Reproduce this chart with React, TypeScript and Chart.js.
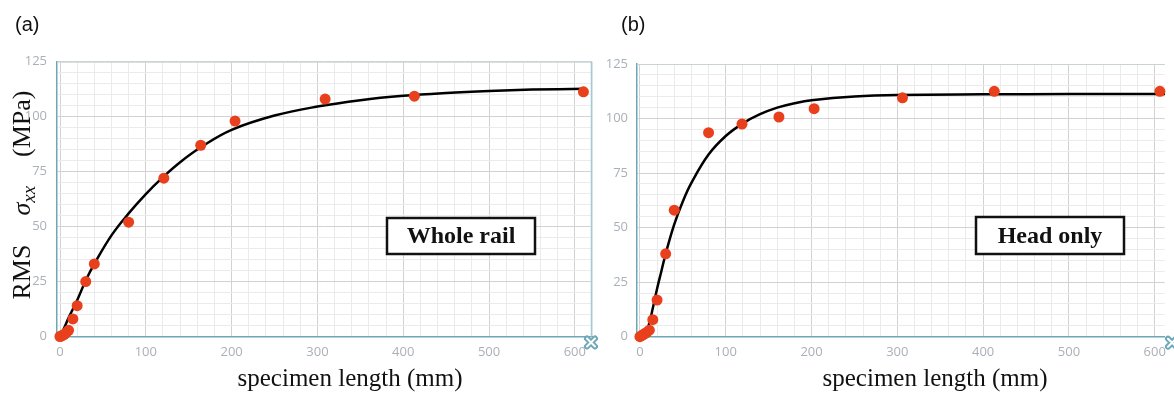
import React, { useEffect, useRef } from "react";
import { Chart, registerables } from "chart.js";

Chart.register(...registerables);

// ---------- data ----------
const panelLabels = ["(a)", "(b)"];
const boxLabels = ["Whole rail", "Head only"];
const xAxisTitle = "specimen length (mm)";
const yTitleParts = ["RMS", "σ", "xx", "(MPa)"];

const xTickLabels = [0, 100, 200, 300, 400, 500, 600];
const yTickLabels = [0, 25, 50, 75, 100, 125];

// (a) whole rail – measured points
const wholeLength = [0, 1, 3, 5, 7, 10, 15, 20, 30, 40, 80, 121, 164, 204, 309, 413, 610];
const wholeRms = [0, 0.2, 0.5, 1, 1.6, 2.8, 8, 14, 25, 33, 52, 72, 87, 98, 108, 109.3, 111.3];
// (a) whole rail – fitted curve
const wholeFitLength = [0, 5, 10, 20, 30, 40, 60, 80, 100, 120, 140, 165, 200, 250, 300, 350, 400, 450, 500, 550, 612];
const wholeFitRms = [0, 4, 8.5, 16.5, 25.5, 33, 46, 56, 64.8, 72.5, 79.3, 86.3, 94, 100.5, 104.6, 107.5, 109.5, 110.8, 111.7, 112.3, 112.7];

// (b) head only – measured points
const headLength = [0, 2, 4, 6, 8, 11, 15, 20, 30, 40, 80, 119, 162, 203, 306, 413, 606];
const headRms = [0, 0.5, 1, 1.5, 2, 3, 7.8, 16.8, 38, 58, 93.5, 97.5, 100.7, 104.5, 109.5, 112.5, 112.5];
// (b) head only – fitted curve
const headFitLength = [0, 5, 10, 15, 20, 25, 30, 40, 50, 60, 80, 100, 120, 140, 160, 180, 200, 250, 300, 400, 500, 612];
const headFitRms = [0, 1.5, 5, 13, 22, 30, 38, 51.5, 62, 70.5, 83.5, 92, 97.8, 102, 105, 107, 108.4, 110.1, 110.8, 111.1, 111.2, 111.2];

// ---------- styling ----------
const RED = "#e8401c";
const TEAL = "#6ea8b8";
const TICK_COLOR = "#aab0b8";
const MAJOR_GRID = "#d2d2d2";
const MINOR_GRID = "#ebebeb";
const SERIF = '"Liberation Serif", "Times New Roman", serif';
const SANS = '"Liberation Sans", Arial, sans-serif';
const TICK_FONT = '"Open Sans", "DejaVu Sans", sans-serif';

const decorPlugin = {
  id: "panelDecor",
  afterDraw(chart: any, _args: any, o: any) {
    const ctx = chart.ctx as CanvasRenderingContext2D;
    const a = chart.chartArea;
    ctx.save();

    // top border
    ctx.strokeStyle = "#c9d3d6";
    ctx.lineWidth = 1;
    ctx.beginPath();
    ctx.moveTo(a.left, a.top + 0.5);
    ctx.lineTo(a.right, a.top + 0.5);
    ctx.stroke();
    if (o.rightBorder) {
      ctx.strokeStyle = "#a9c9d2";
      ctx.lineWidth = 1.5;
      ctx.beginPath();
      ctx.moveTo(a.right - 0.5, a.top);
      ctx.lineTo(a.right - 0.5, a.bottom);
      ctx.stroke();
    }

    // X marker at bottom-right corner
    const mx = o.markerX, my = a.bottom + 6;
    ctx.lineCap = "round";
    ctx.strokeStyle = TEAL;
    ctx.lineWidth = 6;
    ctx.beginPath();
    ctx.moveTo(mx - 4, my - 4); ctx.lineTo(mx + 4, my + 4);
    ctx.moveTo(mx + 4, my - 4); ctx.lineTo(mx - 4, my + 4);
    ctx.stroke();
    ctx.strokeStyle = "#ffffff";
    ctx.lineWidth = 2;
    ctx.beginPath();
    ctx.moveTo(mx - 4, my - 4); ctx.lineTo(mx + 4, my + 4);
    ctx.moveTo(mx + 4, my - 4); ctx.lineTo(mx - 4, my + 4);
    ctx.stroke();

    // panel label
    ctx.fillStyle = "#111";
    ctx.font = `20px ${SANS}`;
    ctx.textAlign = "left";
    ctx.textBaseline = "middle";
    ctx.fillText(o.panel, o.panelX, 25);

    // x-axis title
    ctx.font = `25px ${SERIF}`;
    ctx.textAlign = "center";
    ctx.textBaseline = "alphabetic";
    ctx.fillText(xAxisTitle, o.titleX, 386);

    // annotation box
    const b = o.box;
    ctx.fillStyle = "#fff";
    ctx.fillRect(b.x, b.y, b.w, b.h);
    ctx.strokeStyle = "#111";
    ctx.lineWidth = 2.5;
    ctx.strokeRect(b.x, b.y, b.w, b.h);
    ctx.fillStyle = "#111";
    ctx.font = `bold 24px ${SERIF}`;
    ctx.textAlign = "center";
    ctx.textBaseline = "middle";
    ctx.fillText(o.boxText, b.x + b.w / 2, b.y + b.h / 2 + 1);

    // y-axis title (rotated)
    if (o.yTitle) {
      const [p1, p2, p3, p4] = yTitleParts;
      const f1 = `26px ${SERIF}`;
      const f2 = `italic 26px ${SERIF}`;
      const f3 = `italic 19px ${SERIF}`;
      ctx.font = f1; const w1 = ctx.measureText(p1).width; const w4 = ctx.measureText(p4).width;
      ctx.font = f2; const w2 = ctx.measureText(p2).width;
      ctx.font = f3; const w3 = ctx.measureText(p3).width;
      const gap = 29;
      const total = w1 + gap + w2 + w3 + gap + w4;
      ctx.translate(o.yTitleX, o.yTitleY);
      ctx.rotate(-Math.PI / 2);
      ctx.textAlign = "left";
      ctx.textBaseline = "alphabetic";
      let x = -total / 2;
      const base = 9;
      ctx.font = f1; ctx.fillText(p1, x, base); x += w1 + gap;
      ctx.font = f2; ctx.fillText(p2, x, base); x += w2;
      ctx.font = f3; ctx.fillText(p3, x, base + 5); x += w3 + gap;
      ctx.font = f1; ctx.fillText(p4, x, base);
    }
    ctx.restore();
  },
};

type PanelCfg = {
  width: number;
  left: number;
  padTop: number;
  padRight: number;
  yWidth: number;
  xHeight: number;
  xMin: number;
  xMax: number;
  yPad: number;
  pts: [number[], number[]];
  fit: [number[], number[]];
  decor: any;
};

const isLabeled = (v: number, list: number[]) => list.some((t) => Math.abs(t - v) < 1e-6);

function Panel({ cfg }: { cfg: PanelCfg }) {
  const ref = useRef<HTMLCanvasElement | null>(null);
  useEffect(() => {
    if (!ref.current) return;
    const chart = new Chart(ref.current, {
      type: "scatter",
      data: {
        datasets: [
          {
            data: cfg.pts[0].map((x, i) => ({ x, y: cfg.pts[1][i] })),
            backgroundColor: RED,
            borderColor: RED,
            pointRadius: 5.5,
            pointBorderWidth: 0,
            showLine: false,
            clip: false as any,
          },
          {
            data: cfg.fit[0].map((x, i) => ({ x, y: cfg.fit[1][i] })),
            borderColor: "#000",
            borderWidth: 2.5,
            pointRadius: 0,
            showLine: true,
            tension: 0.4,
            clip: false as any,
          },
        ],
      },
      options: {
        responsive: false,
        animation: false,
        events: [],
        layout: { padding: { top: cfg.padTop, right: cfg.padRight, left: 0, bottom: 0 } },
        plugins: {
          legend: { display: false },
          tooltip: { enabled: false },
          panelDecor: cfg.decor,
        } as any,
        scales: {
          x: {
            type: "linear",
            min: cfg.xMin,
            max: cfg.xMax,
            afterFit: (s: any) => { s.height = cfg.xHeight; },
            border: { color: TEAL, width: 1.5 },
            grid: {
              drawTicks: false,
              color: (c: any) => (isLabeled(c.tick?.value, xTickLabels) ? MAJOR_GRID : MINOR_GRID),
            },
            ticks: {
              stepSize: 20,
              includeBounds: false,
              autoSkip: false,
              maxRotation: 0,
              minRotation: 0,
              padding: 8,
              color: TICK_COLOR,
              font: { family: TICK_FONT, size: 13 },
              callback: (v: any) => (isLabeled(Number(v), xTickLabels) ? String(v) : ""),
            },
          },
          y: {
            type: "linear",
            min: 0,
            max: 125,
            afterFit: (s: any) => { s.width = cfg.yWidth; },
            border: { color: TEAL, width: 1.5 },
            grid: {
              drawTicks: false,
              color: (c: any) => (isLabeled(c.tick?.value, yTickLabels) ? MAJOR_GRID : MINOR_GRID),
            },
            ticks: {
              stepSize: 5,
              includeBounds: false,
              autoSkip: false,
              padding: cfg.yPad,
              color: TICK_COLOR,
              font: { family: TICK_FONT, size: 13 },
              callback: (v: any) => (isLabeled(Number(v), yTickLabels) ? String(v) : ""),
            },
          },
        },
      },
      plugins: [decorPlugin],
    });
    return () => chart.destroy();
  }, []);
  return (
    <canvas
      ref={ref}
      width={cfg.width}
      height={394}
      style={{ position: "absolute", left: cfg.left, top: 0, width: cfg.width, height: 394 }}
    />
  );
}

const panels: PanelCfg[] = [
  {
    width: 600,
    left: 0,
    padTop: 61.7,
    padRight: 5,
    yWidth: 57,
    xHeight: 57.5,
    xMin: -3.5,
    xMax: 620,
    yPad: 10,
    pts: [wholeLength, wholeRms],
    fit: [wholeFitLength, wholeFitRms],
    decor: {
      panel: panelLabels[0],
      panelX: 15,
      titleX: 350,
      box: { x: 387, y: 218, w: 148, h: 36 },
      boxText: boxLabels[0],
      yTitle: true,
      yTitleX: 21,
      yTitleY: 195,
      markerX: 591,
      rightBorder: true,
    },
  },
  {
    width: 574,
    left: 600,
    padTop: 64,
    padRight: 0,
    yWidth: 37,
    xHeight: 57.3,
    xMin: -3.4,
    xMax: 611.5,
    yPad: 9,
    pts: [headLength, headRms],
    fit: [headFitLength, headFitRms],
    decor: {
      panel: panelLabels[1],
      panelX: 21,
      titleX: 335,
      box: { x: 376, y: 217, w: 148, h: 37 },
      boxText: boxLabels[1],
      yTitle: false,
      yTitleX: 0,
      yTitleY: 0,
      markerX: 572,
      rightBorder: false,
    },
  },
];

export default function App() {
  return (
    <div
      style={{
        position: "fixed",
        left: 0,
        top: 0,
        width: 1174,
        height: 394,
        background: "#fff",
        overflow: "hidden",
      }}
    >
      {panels.map((p, i) => (
        <Panel key={i} cfg={p} />
      ))}
    </div>
  );
}
